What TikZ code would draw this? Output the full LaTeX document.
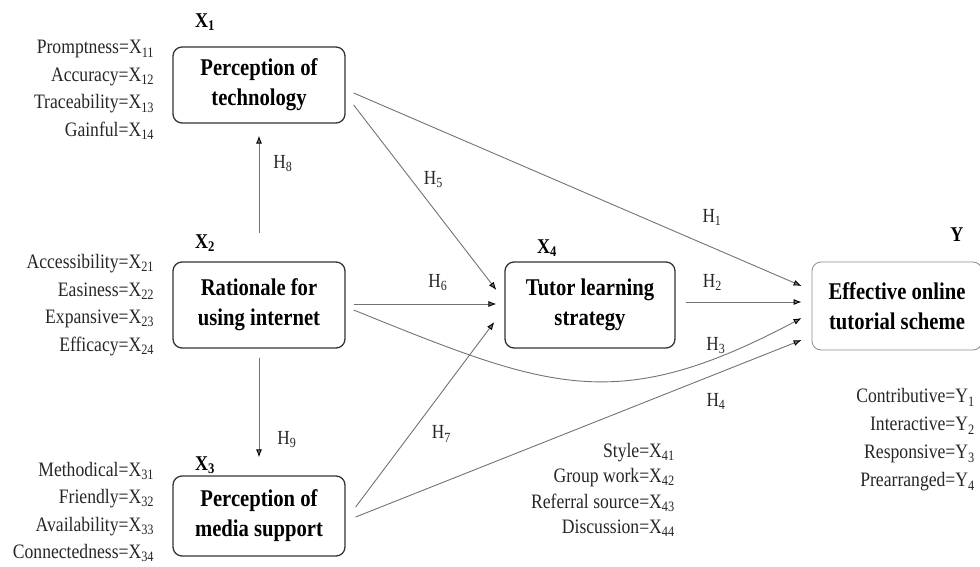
\documentclass[tikz,border=0pt]{standalone}
\usepackage{fontspec}
\setmainfont{Liberation Serif}[FakeStretch=0.86]
\usetikzlibrary{arrows.meta,positioning}

\tikzset{
	box/.style={draw=black!80, line width=1.3pt, rounded corners=9pt, minimum width=172pt, minimum height=80pt, align=center, font=\fontsize{24}{30}\selectfont\bfseries},
	items/.style={align=right, inner sep=0pt, text=black!85, font=\fontsize{20.5}{27.5}\selectfont},
	hyp/.style={black!55, line width=0.9pt, -{Latex[length=8pt,width=6pt,color=black]}},
	hlab/.style={inner sep=0pt, text=black!85, font=\fontsize{20}{20}\selectfont},
	xlab/.style={inner sep=0pt, text=black, font=\fontsize{21}{20}\selectfont\bfseries}
}

\begin{document}
\begin{tikzpicture}[x=1pt,y=-1pt]
			\useasboundingbox (0,0) rectangle (980,567);
			% constructs
			\node[box, minimum height=76pt] (x1) at (259,85) {Perception of\\technology};
			\node[box, minimum height=86pt] (x2) at (259,305) {Rationale for\\using internet};
			\node[box] (x3) at (259,516) {Perception of\\media support};
			\node[box, minimum width=170pt, minimum height=86pt] (x4) at (590,305) {Tutor learning\\strategy};
			\node[box, draw=black!45, line width=0.8pt, minimum width=170pt, minimum height=88pt] (y) at (897,306) {Effective online\\tutorial scheme};
			% construct labels
			\node[xlab] (x1lab) at (205,22) {X\textsubscript{1}};
			\node[xlab] (x2lab) at (205,243) {X\textsubscript{2}};
			\node[xlab] (x3lab) at (205,465) {X\textsubscript{3}};
			\node[xlab] (x4lab) at (547,248) {X\textsubscript{4}};
			\node[xlab] (ylab) at (957,235) {Y};
			% indicators
			\node[items, left=18pt of x1, yshift=-5pt] (ind1) {Promptness=X\textsubscript{11}\\Accuracy=X\textsubscript{12}\\Traceability=X\textsubscript{13}\\Gainful=X\textsubscript{14}};
			\node[items, left=18pt of x2] (ind2) {Accessibility=X\textsubscript{21}\\Easiness=X\textsubscript{22}\\Expansive=X\textsubscript{23}\\Efficacy=X\textsubscript{24}};
			\node[items, left=18pt of x3, yshift=4pt] (ind3) {Methodical=X\textsubscript{31}\\Friendly=X\textsubscript{32}\\Availability=X\textsubscript{33}\\Connectedness=X\textsubscript{34}};
			\node[items, anchor=east, font=\fontsize{20.5}{25.5}\selectfont] (ind4) at (675,490) {Style=X\textsubscript{41}\\Group work=X\textsubscript{42}\\Referral source=X\textsubscript{43}\\Discussion=X\textsubscript{44}};
			\node[items, anchor=east, font=\fontsize{20.5}{28}\selectfont] (indy) at (975,440) {Contributive=Y\textsubscript{1}\\Interactive=Y\textsubscript{2}\\Responsive=Y\textsubscript{3}\\Prearranged=Y\textsubscript{4}};
			% hypotheses
			\path[hyp]
			(x2) edge [shorten <=28pt, shorten >=12pt] node [hlab, pos=0.71, anchor=west, xshift=14pt] {H\textsubscript{8}} (x1)
			(x2) edge [shorten <=9pt, shorten >=18pt] node [hlab, pos=0.72, anchor=west, xshift=18pt] {H\textsubscript{9}} (x3)
			([shift={(8,8)}]x1.east) edge node [hlab, pos=0.8, anchor=south, yshift=21pt] {H\textsubscript{1}} ([shift={(-10,-20)}]y.west)
			([shift={(8,20)}]x1.east) edge node [hlab, pos=0.405, anchor=west, xshift=12pt] {H\textsubscript{5}} ([shift={(-8,-15)}]x4.west)
			([shift={(8,-1)}]x2.east) edge node [hlab, pos=0.59, anchor=south, yshift=13pt] {H\textsubscript{6}} ([shift={(-8,-1)}]x4.west)
			([shift={(10,-3)}]x4.east) edge node [hlab, pos=0.23, anchor=south, yshift=11pt] {H\textsubscript{2}} ([shift={(-10,-4)}]y.west)
			([shift={(8,5)}]x2.east) edge [out=-22, in=208, looseness=1.2] node [hlab, pos=0.83, anchor=south, yshift=4pt] {H\textsubscript{3}} ([shift={(-10,12)}]y.west)
			([shift={(10,-9)}]x3.east) edge node [hlab, pos=0.395, anchor=west, xshift=21pt] {H\textsubscript{7}} ([shift={(-10,17)}]x4.west)
			([shift={(10,1)}]x3.east) edge node [hlab, pos=0.808, anchor=north, yshift=-19pt] {H\textsubscript{4}} ([shift={(-10,34)}]y.west);
		\end{tikzpicture}
\end{document}
